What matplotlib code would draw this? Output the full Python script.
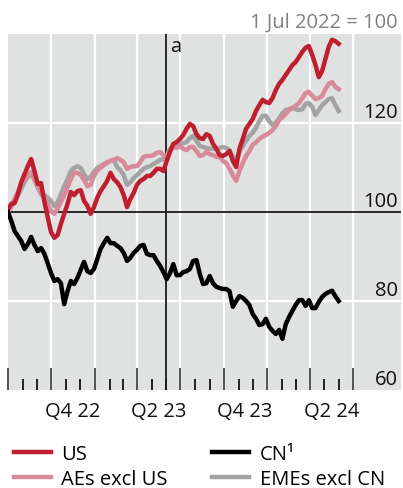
import matplotlib
matplotlib.use("Agg")
import matplotlib.pyplot as plt
import matplotlib.dates as mdates
import matplotlib.transforms as mtransforms
import pandas as pd
import numpy as np

plt.rcParams['font.family'] = ['Open Sans', 'DejaVu Sans']

# ---- data (weekly, index 1 Jul 2022 = 100) ----
dates = pd.date_range('2022-07-01', periods=101, freq='7D')

us = [100.7, 101.8, 102.0, 104.0, 106.7, 108.5, 110.3, 111.9, 109.2, 106.3,
      106.5, 102.3, 98.9, 95.5, 94.2, 94.8, 97.3, 99.6, 101.8, 104.5,
      103.8, 104.7, 104.9, 102.5, 101.4, 99.6, 101.1, 103.2, 104.7, 105.8,
      107.0, 108.8, 107.4, 106.7, 105.6, 103.8, 101.1, 102.9, 104.3, 106.1,
      107.0, 107.4, 108.1, 108.1, 108.8, 109.7, 109.7, 109.2, 111.5, 113.5,
      115.3, 115.7, 116.4, 117.3, 118.7, 119.8, 119.3, 117.5, 116.6, 116.4,
      117.5, 117.1, 115.3, 114.2, 112.8, 112.6, 113.0, 113.7, 111.5, 110.1,
      114.2, 116.4, 118.7, 119.8, 120.9, 122.7, 124.0, 125.2, 124.7, 124.5,
      125.6, 127.4, 128.8, 129.7, 130.8, 131.9, 133.0, 133.7, 134.8, 136.0,
      136.9, 137.3, 135.3, 133.0, 130.3, 131.7, 134.4, 137.1, 138.7, 138.4,
      137.8]

aes_excl_us = [100.0, 101.1, 102.9, 104.5, 106.3, 107.4, 108.3, 109.0, 107.4, 105.6,
               104.0, 102.9, 101.8, 100.2, 99.6, 100.7, 102.3, 103.8, 105.6, 107.4,
               108.8, 108.8, 108.3, 107.2, 105.8, 106.1, 108.1, 109.4, 109.9, 110.6,
               111.0, 111.5, 111.7, 112.1, 111.7, 111.2, 109.7, 110.1, 110.3, 110.3,
               111.2, 112.4, 112.6, 112.6, 112.8, 113.3, 113.5, 112.8, 112.6, 113.9,
               114.6, 114.4, 114.8, 114.2, 113.9, 114.6, 114.6, 113.7, 112.6, 112.8,
               113.5, 113.0, 112.8, 112.4, 112.4, 111.5, 111.0, 109.7, 108.3, 107.0,
               109.2, 111.0, 112.6, 113.7, 115.1, 115.7, 116.4, 116.9, 117.3, 117.8,
               118.4, 119.3, 120.7, 121.3, 122.0, 122.9, 123.4, 123.8, 124.5, 125.6,
               126.7, 127.0, 126.1, 125.4, 125.6, 126.1, 127.6, 128.8, 129.2, 128.1,
               127.6]

emes_excl_cn = [100.0, 101.8, 102.7, 103.8, 105.2, 106.7, 107.9, 108.5, 107.2, 105.6,
                104.5, 103.8, 103.2, 102.5, 101.3, 102.2, 104.0, 105.8, 107.4, 109.2,
                109.9, 110.3, 109.9, 108.5, 107.4, 107.9, 109.0, 109.9, 110.3, 110.8,
                111.2, 111.5, 111.7, 110.1, 109.4, 108.3, 106.1, 106.7, 107.6, 108.3,
                109.0, 109.7, 110.1, 110.3, 110.8, 111.2, 111.7, 111.9, 112.6, 114.2,
                114.8, 115.1, 115.3, 115.5, 115.7, 116.6, 117.1, 116.0, 114.8, 114.6,
                114.4, 114.2, 114.2, 114.2, 114.4, 114.6, 114.4, 113.9, 112.4, 111.9,
                113.5, 114.8, 116.0, 117.1, 117.8, 118.9, 120.4, 121.6, 121.6, 120.4,
                119.6, 120.0, 121.1, 122.2, 122.9, 123.1, 123.4, 123.1, 122.9, 123.1,
                124.3, 124.5, 123.6, 121.8, 122.9, 124.0, 124.7, 125.4, 125.6, 124.0,
                122.7]

cn = [100.0, 98.0, 95.7, 94.6, 93.5, 91.7, 92.8, 94.4, 92.6, 91.2,
      91.9, 90.6, 88.5, 86.3, 84.5, 84.9, 84.0, 79.3, 82.2, 84.5,
      83.8, 85.2, 87.0, 88.8, 86.7, 86.3, 87.2, 89.4, 91.7, 93.0,
      94.2, 93.0, 93.0, 92.4, 91.9, 90.8, 89.0, 89.7, 90.8, 91.5,
      92.4, 92.6, 90.6, 90.3, 90.3, 89.0, 87.9, 86.5, 84.9, 86.3,
      88.3, 85.8, 85.8, 86.5, 86.7, 87.2, 89.0, 89.2, 86.1, 83.8,
      84.0, 85.6, 84.0, 83.2, 82.9, 82.7, 82.7, 82.2, 78.7, 80.0,
      81.1, 80.7, 80.0, 79.1, 77.1, 76.0, 74.6, 74.8, 76.0, 74.2,
      73.3, 72.6, 73.5, 71.5, 74.8, 76.4, 77.8, 79.1, 80.2, 80.2,
      78.9, 80.2, 78.4, 78.4, 79.8, 80.9, 81.6, 82.0, 82.3, 81.1,
      80.0]

series_labels = ['US', 'AEs excl US', 'CN\u00b9', 'EMEs excl CN']
series_colors = ['#BE1E2D', '#D8899A', '#000000', '#A3A3A3']

yticks = [60, 80, 100, 120]
quarter_labels = ['Q4 22', 'Q2 23', 'Q4 23', 'Q2 24']
quarter_label_dates = ['2022-11-15', '2023-05-16', '2023-11-15', '2024-05-16']
event_date = '2023-06-01'
event_label = 'a'
header = '1 Jul 2022 = 100'

# ---- figure ----
W, H = 403, 489
fig = plt.figure(figsize=(W / 100, H / 100), dpi=100)
ax = fig.add_axes([8 / W, 98 / H, 393 / W, 356 / H])
ax.set_facecolor('#E0E1E1')
for s in ax.spines.values():
    s.set_visible(False)

x0 = pd.Timestamp('2022-07-01')
ax.set_xlim(x0, x0 + pd.Timedelta(days=832))
ax.set_ylim(60, 140)

# grid
qstarts = pd.date_range('2022-10-01', '2024-07-01', freq='QS')
for q in qstarts:
    ax.axvline(q, color='white', lw=1.6, zorder=1)
for yv in [80, 120]:
    ax.axhline(yv, color='white', lw=1.6, zorder=1)
ax.axhline(100, color='#1a1a1a', lw=1.3, zorder=2)
ax.axvline(pd.Timestamp(event_date), color='#1a1a1a', lw=1.3, zorder=2)

# series
lw = 3.2
l_em, = ax.plot(dates, emes_excl_cn, color=series_colors[3], lw=lw, zorder=3,
                solid_joinstyle='round')
l_ae, = ax.plot(dates, aes_excl_us, color=series_colors[1], lw=lw, zorder=4,
                solid_joinstyle='round')
l_us, = ax.plot(dates, us, color=series_colors[0], lw=lw, zorder=5,
                solid_joinstyle='round')
l_cn, = ax.plot(dates, cn, color=series_colors[2], lw=lw, zorder=6,
                solid_joinstyle='round')

# ticks
ax.set_yticks([])
months = pd.date_range('2022-07-01', '2024-07-01', freq='MS')
ax.set_xticks(pd.date_range('2022-07-01', '2024-07-01', freq='QS'))
ax.set_xticks([m for m in months if m.month not in (1, 4, 7, 10)], minor=True)
ax.tick_params(axis='x', which='major', direction='in', length=16, width=1.3,
               color='#444444', labelbottom=False)
ax.tick_params(axis='x', which='minor', direction='in', length=8, width=1.3,
               color='#111111', labelbottom=False)

fs = 14.5
# x labels
for lab, d in zip(quarter_labels, quarter_label_dates):
    ax.text(pd.Timestamp(d), -0.03, lab, transform=ax.get_xaxis_transform(),
            ha='center', va='top', fontsize=fs, color='#111111')

# y labels (inside, right, above gridlines)
ytrans = mtransforms.offset_copy(ax.get_yaxis_transform(), fig=fig, x=0, y=1, units='dots')
for yv in yticks:
    ax.text(0.993, yv, str(yv), transform=ytrans, ha='right', va='bottom',
            fontsize=fs, color='#111111', zorder=7)

# event label
ax.text(pd.Timestamp(event_date) + pd.Timedelta(days=8), 0.965, event_label,
        transform=ax.get_xaxis_transform(), ha='left', va='center',
        fontsize=fs, color='#111111')

# header
fig.text(398 / W, 1 - 23 / H, header, ha='right', va='center', fontsize=fs,
         color='#808080')

# legend
leg = fig.legend([l_us, l_ae, l_cn, l_em], series_labels, ncol=2,
                 loc='upper left', bbox_to_anchor=(8 / W, 1 - 439 / H),
                 frameon=False, fontsize=fs, handlelength=1.85,
                 handletextpad=0.5, columnspacing=2.2, labelspacing=0.25,
                 borderaxespad=0, borderpad=0.3)
for h in leg.get_lines():
    h.set_linewidth(3.2)

fig.savefig('out.png', dpi=100)
